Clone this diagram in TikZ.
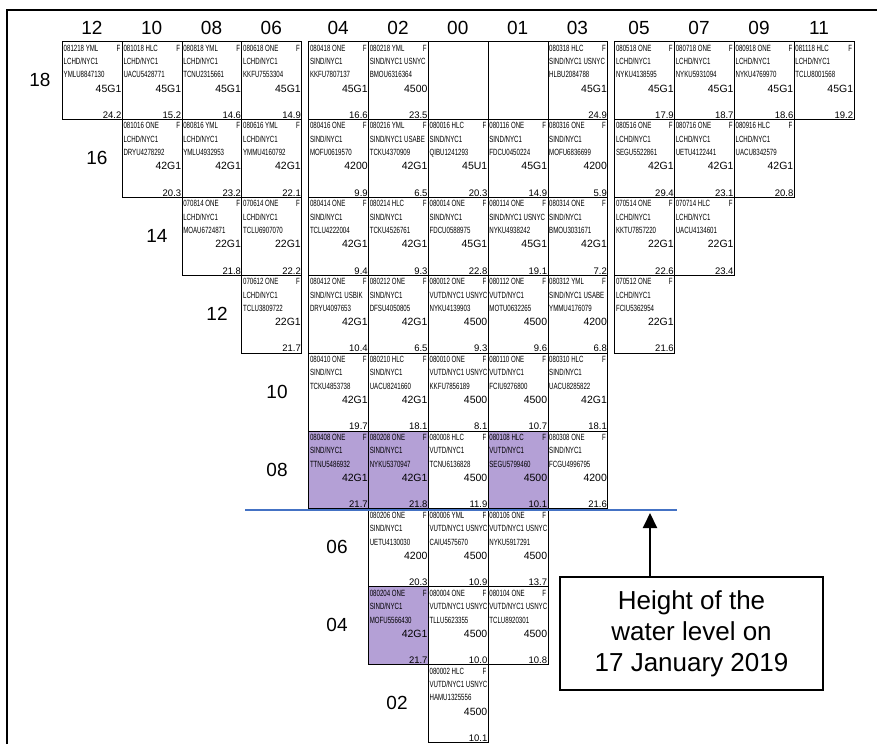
\documentclass[tikz,border=0pt]{standalone}
\usepackage{fontspec}
\setmainfont{Liberation Sans}
\newfontfamily\tagfont[FakeStretch=0.68]{Liberation Sans}
\usetikzlibrary{arrows.meta}

\definecolor{stow}{RGB}{180,160,214}
\definecolor{water}{RGB}{68,114,196}

% one slot of the bay: name, x, y (top left), code, ports, box id, iso, weight, fill
\newcommand\baycell[9]{%
  \node[cell,fill=#9] (#1) at (#2,#3) {};
  \node[tag,anchor=base west] (#1-code) at ([shift={(1.5,10)}]#1.north west) {#4};
  \node[tag,anchor=base east] (#1-fe) at ([shift={(-2,10)}]#1.north east) {F};
  \node[tag,anchor=base west] (#1-port) at ([shift={(1.5,23.3)}]#1.north west) {#5};
  \node[tag,anchor=base west] (#1-box) at ([shift={(1.5,36.7)}]#1.north west) {#6};
  \node[iso,anchor=base east] (#1-iso) at ([shift={(-1,51)}]#1.north east) {#7};
  \node[wt,anchor=base east] (#1-wt) at ([shift={(-1,-1.5)}]#1.south east) {#8};
}

\begin{document}
\begin{tikzpicture}
[x=1pt,y=-1pt,
cell/.style={rectangle,draw=black,line width=0.8pt,inner sep=0pt,anchor=north west,
minimum width=59.8pt,minimum height=77.9pt},
tag/.style={inner sep=0pt,font=\tagfont\fontsize{9}{9}\selectfont},
iso/.style={inner sep=0pt,font=\fontsize{10.5}{10.5}\selectfont},
wt/.style={inner sep=0pt,font=\fontsize{9.5}{9.5}\selectfont},
head/.style={inner sep=0pt,font=\fontsize{19}{19}\selectfont},
note/.style={draw,line width=1.2pt,minimum width=263pt,minimum height=113pt,
align=center,font=\fontsize{26}{31}\selectfont},
waterline/.style={draw=water,line width=1.4pt},
pointer/.style={->,>={Triangle[length=15pt,width=14pt]},line width=2pt},
frame/.style={line width=1.6pt}]

\useasboundingbox (0,0) rectangle (877,744);
\draw[frame] (7,744) -- (7,10) -- (877,10);

% column numbers
\foreach \lab/\x in {12/91.9,10/151.7,08/211.5,06/271.3,04/338.2,02/398.0,00/457.8,
01/517.6,03/577.4,05/639.0,07/699.0,09/759.0,11/819.0}
  \node[head] (col\lab) at (\x,28) {\lab};

% tier numbers
\foreach \lab/\x/\y in {18/40/80,16/97/158,14/157/236,12/217/314,10/277/391.6,
08/277/469.5,06/337/547.4,04/337/625.3,02/397/703.2}
  \node[head] (tier\lab) at (\x,\y) {\lab};

% tier 18
\baycell{c1218}{62.0}{41.0}{081218 YML}{LCHD/NYC1}{YMLU8847130}{45G1}{24.2}{white}
\baycell{c1018}{121.8}{41.0}{081018 HLC}{LCHD/NYC1}{UACU5428771}{45G1}{15.2}{white}
\baycell{c0818}{181.6}{41.0}{080818 YML}{LCHD/NYC1}{TCNU2315661}{45G1}{14.6}{white}
\baycell{c0618}{241.4}{41.0}{080618 ONE}{LCHD/NYC1}{KKFU7553304}{45G1}{14.9}{white}
\baycell{c0418}{308.3}{41.0}{080418 ONE}{SIND/NYC1}{KKFU7807137}{45G1}{16.6}{white}
\baycell{c0218}{368.1}{41.0}{080218 YML}{SIND/NYC1 USNYC}{BMOU6316364}{4500}{23.5}{white}
\node[cell] (c0018) at (427.9,41.0) {};
\node[cell] (c0118) at (487.7,41.0) {};
\baycell{c0318}{547.5}{41.0}{080318 HLC}{SIND/NYC1 USNYC}{HLBU2084788}{45G1}{24.9}{white}
\baycell{c0518}{614.3}{41.0}{080518 ONE}{LCHD/NYC1}{NYKU4138595}{45G1}{17.9}{white}
\baycell{c0718}{674.1}{41.0}{080718 ONE}{LCHD/NYC1}{NYKU5931094}{45G1}{18.7}{white}
\baycell{c0918}{733.9}{41.0}{080918 ONE}{LCHD/NYC1}{NYKU4769970}{45G1}{18.6}{white}
\baycell{c1118}{793.7}{41.0}{081118 HLC}{LCHD/NYC1}{TCLU8001568}{45G1}{19.2}{white}

% tier 16
\baycell{c1016}{121.8}{118.9}{081016 ONE}{LCHD/NYC1}{DRYU4278292}{42G1}{20.3}{white}
\baycell{c0816}{181.6}{118.9}{080816 YML}{LCHD/NYC1}{YMLU4932953}{42G1}{23.2}{white}
\baycell{c0616}{241.4}{118.9}{080616 YML}{LCHD/NYC1}{YMMU4160792}{42G1}{22.1}{white}
\baycell{c0416}{308.3}{118.9}{080416 ONE}{SIND/NYC1}{MOFU0619570}{4200}{9.9}{white}
\baycell{c0216}{368.1}{118.9}{080216 YML}{SIND/NYC1 USABE}{TCKU4370909}{42G1}{6.5}{white}
\baycell{c0016}{427.9}{118.9}{080016 HLC}{SIND/NYC1}{QIBU1241293}{45U1}{20.3}{white}
\baycell{c0116}{487.7}{118.9}{080116 ONE}{SIND/NYC1}{FDCU0450224}{45G1}{14.9}{white}
\baycell{c0316}{547.5}{118.9}{080316 ONE}{SIND/NYC1}{MOFU6836699}{4200}{5.9}{white}
\baycell{c0516}{614.3}{118.9}{080516 ONE}{LCHD/NYC1}{SEGU5522861}{42G1}{29.4}{white}
\baycell{c0716}{674.1}{118.9}{080716 ONE}{LCHD/NYC1}{UETU4122441}{42G1}{23.1}{white}
\baycell{c0916}{733.9}{118.9}{080916 HLC}{LCHD/NYC1}{UACU8342579}{42G1}{20.8}{white}

% tier 14
\baycell{c0814}{181.6}{196.8}{070814 ONE}{LCHD/NYC1}{MOAU6724871}{22G1}{21.8}{white}
\baycell{c0614}{241.4}{196.8}{070614 ONE}{LCHD/NYC1}{TCLU6907070}{22G1}{22.2}{white}
\baycell{c0414}{308.3}{196.8}{080414 ONE}{SIND/NYC1}{TCLU4222004}{42G1}{9.4}{white}
\baycell{c0214}{368.1}{196.8}{080214 HLC}{SIND/NYC1}{TCKU4526761}{42G1}{9.3}{white}
\baycell{c0014}{427.9}{196.8}{080014 ONE}{SIND/NYC1}{FDCU0588975}{45G1}{22.8}{white}
\baycell{c0114}{487.7}{196.8}{080114 ONE}{SIND/NYC1 USNYC}{NYKU4938242}{45G1}{19.1}{white}
\baycell{c0314}{547.5}{196.8}{080314 ONE}{SIND/NYC1}{BMOU3031671}{42G1}{7.2}{white}
\baycell{c0514}{614.3}{196.8}{070514 ONE}{LCHD/NYC1}{KKTU7857220}{22G1}{22.6}{white}
\baycell{c0714}{674.1}{196.8}{070714 HLC}{LCHD/NYC1}{UACU4134601}{22G1}{23.4}{white}

% tier 12
\baycell{c0612}{241.4}{274.7}{070612 ONE}{LCHD/NYC1}{TCLU3809722}{22G1}{21.7}{white}
\baycell{c0412}{308.3}{274.7}{080412 ONE}{SIND/NYC1 USBIK}{DRYU4097653}{42G1}{10.4}{white}
\baycell{c0212}{368.1}{274.7}{080212 ONE}{SIND/NYC1}{DFSU4050805}{42G1}{6.5}{white}
\baycell{c0012}{427.9}{274.7}{080012 ONE}{VUTD/NYC1 USNYC}{NYKU4139903}{4500}{9.3}{white}
\baycell{c0112}{487.7}{274.7}{080112 ONE}{VUTD/NYC1}{MOTU0632265}{4500}{9.6}{white}
\baycell{c0312}{547.5}{274.7}{080312 YML}{SIND/NYC1 USABE}{YMMU4176079}{4200}{6.8}{white}
\baycell{c0512}{614.3}{274.7}{070512 ONE}{LCHD/NYC1}{FCIU5362954}{22G1}{21.6}{white}

% tier 10
\baycell{c0410}{308.3}{352.6}{080410 ONE}{SIND/NYC1}{TCKU4853738}{42G1}{19.7}{white}
\baycell{c0210}{368.1}{352.6}{080210 HLC}{SIND/NYC1}{UACU8241660}{42G1}{18.1}{white}
\baycell{c0010}{427.9}{352.6}{080010 ONE}{VUTD/NYC1 USNYC}{KKFU7856189}{4500}{8.1}{white}
\baycell{c0110}{487.7}{352.6}{080110 ONE}{VUTD/NYC1}{FCIU9276800}{4500}{10.7}{white}
\baycell{c0310}{547.5}{352.6}{080310 HLC}{SIND/NYC1}{UACU8285822}{42G1}{18.1}{white}

% tier 08
\baycell{c0408}{308.3}{430.5}{080408 ONE}{SIND/NYC1}{TTNU5486932}{42G1}{21.7}{stow}
\baycell{c0208}{368.1}{430.5}{080208 ONE}{SIND/NYC1}{NYKU5370947}{42G1}{21.8}{stow}
\baycell{c0008}{427.9}{430.5}{080008 HLC}{VUTD/NYC1}{TCNU6136828}{4500}{11.9}{white}
\baycell{c0108}{487.7}{430.5}{080108 HLC}{VUTD/NYC1}{SEGU5799460}{4500}{10.1}{stow}
\baycell{c0308}{547.5}{430.5}{080308 ONE}{SIND/NYC1}{FCGU4996795}{4200}{21.6}{white}

% tier 06
\baycell{c0206}{368.1}{508.4}{080206 ONE}{SIND/NYC1}{UETU4130030}{4200}{20.3}{white}
\baycell{c0006}{427.9}{508.4}{080006 YML}{VUTD/NYC1 USNYC}{CAIU4575670}{4500}{10.9}{white}
\baycell{c0106}{487.7}{508.4}{080106 ONE}{VUTD/NYC1 USNYC}{NYKU5917291}{4500}{13.7}{white}

% tier 04
\baycell{c0204}{368.1}{586.3}{080204 ONE}{SIND/NYC1}{MOFU5566430}{42G1}{21.7}{stow}
\baycell{c0004}{427.9}{586.3}{080004 ONE}{VUTD/NYC1 USNYC}{TLLU5623355}{4500}{10.0}{white}
\baycell{c0104}{487.7}{586.3}{080104 ONE}{VUTD/NYC1 USNYC}{TCLU8920301}{4500}{10.8}{white}

% tier 02
\baycell{c0002}{427.9}{664.2}{080002 HLC}{VUTD/NYC1 USNYC}{HAMU1325556}{4500}{10.1}{white}

% water level
\coordinate (wl-start) at (245,510);
\coordinate (wl-end) at (677,510);
\draw[waterline] (wl-start) -- (wl-end);
\coordinate (wl-mark) at (650,513);

\node[note] (note) at (691.5,633.5) {Height of the\\water level on\\17 January 2019};
\draw[pointer] (note.north -| wl-mark) -- (wl-mark);

\end{tikzpicture}
\end{document}
